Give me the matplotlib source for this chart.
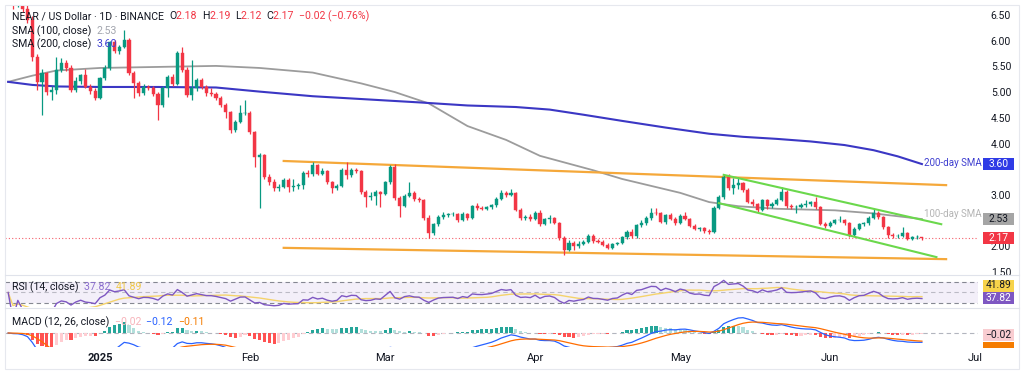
import numpy as np
import pandas as pd
import matplotlib.pyplot as plt
from matplotlib.patches import Rectangle

W, H = 1024, 374

plt.rcParams["font.family"] = ["Roboto", "DejaVu Sans"]

# ---- daily candles, NEAR/USD 1D ----
START_DATE = "2024-12-13"
FIRST_OPEN = 6.95

close_dec = [6.80, 6.70, 6.75, 6.62, 6.40, 5.68, 5.20, 5.37, 5.00, 5.05, 5.43, 5.57, 5.47, 5.04, 5.22, 5.33, 5.10, 5.02, 4.88]
high_dec = [7.00, 6.85, 6.82, 6.80, 6.70, 6.48, 5.75, 5.45, 5.40, 5.12, 5.68, 5.66, 5.62, 5.52, 5.30, 5.36, 5.45, 5.16, 5.08]
low_dec = [6.70, 6.62, 6.65, 6.55, 6.35, 5.60, 5.04, 4.55, 4.95, 4.85, 4.97, 5.40, 5.42, 5.00, 5.00, 5.15, 5.08, 4.96, 4.84]

close_jan = [5.27, 5.47, 5.97, 5.80, 5.88, 6.01, 5.37, 5.18, 4.98, 5.10, 5.08, 4.97, 4.75, 5.08, 5.29, 5.16,
             5.76, 5.43, 4.94, 5.08, 5.23, 5.10, 4.98, 4.97, 4.88, 4.75, 4.61, 4.26, 4.42, 4.59, 4.60]
high_jan = [5.30, 5.52, 6.00, 6.02, 5.92, 6.21, 6.05, 5.42, 5.22, 5.16, 5.13, 5.12, 5.00, 5.12, 5.33, 5.36,
            5.80, 5.88, 5.48, 5.62, 5.28, 5.28, 5.14, 5.08, 5.00, 4.92, 4.78, 4.64, 4.46, 4.75, 4.85]
low_jan = [4.86, 5.24, 5.43, 5.76, 5.75, 5.85, 5.33, 4.88, 4.92, 4.95, 5.04, 4.93, 4.46, 4.72, 4.90, 5.12,
           5.14, 5.40, 4.90, 4.85, 5.02, 5.06, 4.92, 4.92, 4.84, 4.72, 4.50, 4.20, 4.22, 4.40, 4.55]

close_feb = [4.22, 3.74, 3.78, 3.35, 3.25, 3.13, 3.16, 3.29, 3.16, 3.18, 3.19, 3.43, 3.40, 3.58,
             3.41, 3.46, 3.25, 3.13, 3.18, 3.48, 3.38, 3.48, 3.46, 3.06, 2.96, 2.98, 3.06, 3.02]
high_feb = [4.64, 4.25, 3.82, 3.80, 3.40, 3.30, 3.22, 3.33, 3.32, 3.30, 3.24, 3.46, 3.48, 3.64,
            3.60, 3.52, 3.48, 3.28, 3.22, 3.52, 3.64, 3.52, 3.52, 3.49, 3.10, 3.05, 3.10, 3.08]
low_feb = [4.18, 3.55, 2.75, 3.30, 3.20, 3.08, 3.08, 3.14, 3.05, 3.08, 3.12, 3.12, 3.34, 3.36,
           3.38, 3.38, 3.22, 3.04, 3.10, 3.15, 3.30, 3.35, 3.42, 3.02, 2.77, 2.90, 2.80, 2.77]

close_mar = [3.25, 3.54, 2.94, 2.78, 2.98, 3.04, 2.92, 2.90, 2.55, 2.26, 2.43, 2.57, 2.61, 2.62, 2.63, 2.51,
             2.63, 2.55, 2.78, 2.74, 2.73, 2.76, 2.80, 2.92, 3.04, 3.00, 3.04, 2.71, 2.55, 2.57, 2.53]
high_mar = [3.28, 3.58, 3.60, 2.98, 3.02, 3.25, 3.08, 2.96, 2.92, 2.60, 2.46, 2.60, 2.66, 2.65, 2.66, 2.65,
            2.66, 2.65, 2.81, 2.84, 2.78, 2.79, 2.82, 2.95, 3.10, 3.07, 3.12, 3.06, 2.74, 2.61, 2.63]
low_mar = [3.00, 3.22, 2.90, 2.57, 2.76, 2.95, 2.88, 2.86, 2.52, 2.16, 2.22, 2.40, 2.53, 2.57, 2.59, 2.48,
           2.49, 2.52, 2.53, 2.70, 2.70, 2.71, 2.73, 2.77, 2.90, 2.96, 2.97, 2.68, 2.52, 2.52, 2.49]

close_apr = [2.65, 2.43, 2.53, 2.55, 2.45, 2.16, 1.93, 2.07, 2.00, 2.05, 2.08, 2.20, 2.10, 2.09, 2.03,
             1.97, 2.04, 2.06, 2.18, 2.28, 2.20, 2.41, 2.45, 2.55, 2.65, 2.64, 2.48, 2.60, 2.54, 2.45]
high_apr = [2.68, 2.70, 2.56, 2.60, 2.57, 2.47, 2.20, 2.12, 2.10, 2.10, 2.12, 2.23, 2.24, 2.15, 2.12,
            2.06, 2.07, 2.08, 2.21, 2.31, 2.33, 2.44, 2.52, 2.58, 2.75, 2.75, 2.67, 2.63, 2.64, 2.57]
low_apr = [2.51, 2.40, 2.41, 2.46, 2.43, 2.12, 1.83, 1.90, 1.92, 1.97, 2.02, 2.06, 2.07, 2.06, 2.00,
           1.94, 1.95, 2.02, 2.04, 2.15, 2.17, 2.17, 2.38, 2.42, 2.52, 2.60, 2.45, 2.44, 2.51, 2.42]

close_may = [2.59, 2.54, 2.40, 2.34, 2.35, 2.29, 2.27, 2.75, 2.96, 3.35, 3.14, 3.19, 3.23, 3.10, 2.87, 2.82,
             2.70, 2.90, 2.78, 2.83, 2.90, 3.06, 2.78, 2.76, 2.77, 2.80, 2.83, 2.86, 2.76, 2.44, 2.39]
high_may = [2.62, 2.66, 2.56, 2.43, 2.38, 2.37, 2.33, 2.78, 3.00, 3.38, 3.41, 3.32, 3.35, 3.26, 3.13, 2.92,
            2.84, 2.93, 2.92, 2.87, 2.94, 3.15, 3.10, 2.82, 2.81, 2.84, 2.90, 2.89, 2.96, 2.78, 2.47]
low_may = [2.43, 2.51, 2.37, 2.31, 2.30, 2.26, 2.24, 2.25, 2.72, 2.92, 3.10, 3.02, 3.12, 3.06, 2.84, 2.79,
           2.67, 2.68, 2.72, 2.75, 2.80, 2.88, 2.75, 2.73, 2.65, 2.75, 2.76, 2.79, 2.73, 2.41, 2.36]

close_jun = [2.46, 2.51, 2.52, 2.45, 2.22, 2.34, 2.43, 2.45, 2.55, 2.65, 2.57, 2.37, 2.22, 2.20, 2.21, 2.25, 2.15, 2.18, 2.19, 2.17]
high_jun = [2.49, 2.54, 2.58, 2.54, 2.47, 2.37, 2.46, 2.48, 2.58, 2.73, 2.68, 2.59, 2.39, 2.25, 2.24, 2.38, 2.27, 2.20, 2.22, 2.19]
low_jun = [2.37, 2.43, 2.48, 2.42, 2.19, 2.20, 2.32, 2.40, 2.42, 2.53, 2.54, 2.34, 2.17, 2.17, 2.17, 2.19, 2.12, 2.13, 2.15, 2.12]

# ---- moving averages (sampled off the chart) ----
sma100_dates = ["2024-12-13", "2024-12-18", "2024-12-23", "2025-01-01", "2025-01-13", "2025-01-25", "2025-02-03",
                "2025-02-14", "2025-02-24", "2025-03-03", "2025-03-10", "2025-03-18", "2025-03-26", "2025-04-02",
                "2025-04-13", "2025-04-19", "2025-05-01", "2025-05-07", "2025-05-13", "2025-05-21", "2025-06-02",
                "2025-06-10", "2025-06-20"]
sma100_vals = [5.20, 5.32, 5.42, 5.47, 5.49, 5.51, 5.47, 5.38, 5.17, 5.00, 4.78, 4.34, 4.07, 3.76,
               3.48, 3.31, 3.04, 2.86, 2.78, 2.73, 2.70, 2.64, 2.53]

sma200_dates = ["2024-12-13", "2024-12-18", "2024-12-23", "2025-01-01", "2025-01-13", "2025-01-25", "2025-02-03",
                "2025-02-14", "2025-02-25", "2025-03-08", "2025-03-18", "2025-03-28", "2025-04-04", "2025-04-11",
                "2025-04-19", "2025-04-28", "2025-05-07", "2025-05-14", "2025-05-21", "2025-05-28", "2025-06-04",
                "2025-06-10", "2025-06-15", "2025-06-20"]
sma200_vals = [5.20, 5.14, 5.11, 5.10, 5.10, 5.09, 5.01, 4.92, 4.86, 4.80, 4.74, 4.71, 4.66, 4.56,
               4.44, 4.31, 4.19, 4.13, 4.09, 4.04, 3.97, 3.87, 3.75, 3.60]

# ---- drawn trend lines (start/end) ----
range_top = (["2025-02-08", "2025-06-25"], [3.66, 3.19])
range_bottom = (["2025-02-08", "2025-06-25"], [1.97, 1.75])
channel_top = (["2025-05-10", "2025-06-24"], [3.39, 2.43])
channel_bottom = (["2025-05-09", "2025-06-23"], [2.84, 1.79])

month_ticks = ["2025-01-01", "2025-02-01", "2025-03-01", "2025-04-01", "2025-05-01", "2025-06-01", "2025-07-01"]
month_labels = ["2025", "Feb", "Mar", "Apr", "May", "Jun", "Jul"]
# 2.50 and 3.50 sit under the SMA value tags, so they are left out
price_ticks = [1.5, 2.0, 3.0, 4.0, 4.5, 5.0, 5.5, 6.0, 6.5]

UP, DOWN = "#089981", "#f23645"
DARK = "#131722"
ORIGIN = pd.Timestamp("2025-01-01")


def day(d):
    return (pd.to_datetime(d) - ORIGIN) / pd.Timedelta(days=1)


def axes_px(fig, x0, x1, y0, y1):
    return fig.add_axes([x0 / W, 1 - y1 / H, (x1 - x0) / W, (y1 - y0) / H])


def text_run(fig, x, y, parts, size=7.6):
    """Writes coloured pieces one after another from pixel x, y."""
    r = fig.canvas.get_renderer()
    for s, col in parts:
        t = fig.text(x / W, 1 - y / H, s, color=col, fontsize=size, va="center", ha="left")
        x += t.get_window_extent(r).width


def tag(fig, y_center, label, bg, fg="white", h=12):
    fig.patches.append(Rectangle((983 / W, 1 - (y_center + h / 2) / H), 31 / W, h / H,
                                 transform=fig.transFigure, facecolor=bg, edgecolor="none", zorder=5))
    fig.text(998.5 / W, 1 - y_center / H, label, color=fg, fontsize=7.4, ha="center", va="center", zorder=6)


def build_frame():
    closes = close_dec + close_jan + close_feb + close_mar + close_apr + close_may + close_jun
    highs = high_dec + high_jan + high_feb + high_mar + high_apr + high_may + high_jun
    lows = low_dec + low_jan + low_feb + low_mar + low_apr + low_may + low_jun
    df = pd.DataFrame({"close": closes, "high": highs, "low": lows},
                      index=pd.date_range(START_DATE, periods=len(closes), freq="D"))
    df["open"] = df["close"].shift(1).fillna(FIRST_OPEN)
    df["x"] = day(df.index)
    return df


def main():
    df = build_frame()
    s = df["close"]

    # RSI (Wilder) and its 14 SMA
    delta = s.diff().fillna(0)
    gain = delta.clip(lower=0).ewm(alpha=1 / 14, adjust=True).mean()
    loss = (-delta.clip(upper=0)).ewm(alpha=1 / 14, adjust=True).mean()
    rsi = 100 - 100 / (1 + gain / loss.replace(0, np.nan))
    rsi = rsi.fillna(50)
    rsi_ma = rsi.rolling(14, min_periods=1).mean()

    # MACD 12/26/9
    macd = s.ewm(span=12, adjust=False).mean() - s.ewm(span=26, adjust=False).mean()
    signal = macd.ewm(span=9, adjust=False).mean()
    hist = macd - signal

    fig = plt.figure(figsize=(W / 100, H / 100), dpi=100)
    fig.patch.set_facecolor("white")
    xlim = (-19.65, 181.6)

    # ---------- price pane ----------
    ax = axes_px(fig, 5, 978, 5, 274)
    ax.set_xlim(*xlim)
    ax.set_ylim(1.461, 6.695)

    up = df["close"] >= df["open"]
    colors = np.where(up, UP, DOWN)
    ax.vlines(df["x"], df["low"], df["high"], colors=colors, lw=0.9, zorder=3)
    body = (df["close"] - df["open"]).abs().clip(lower=0.008)
    ax.bar(df["x"], body, bottom=np.minimum(df["open"], df["close"]), width=0.64,
           color=colors, edgecolor=colors, linewidth=0.3, zorder=4)

    ax.plot(day(sma100_dates), sma100_vals, color="#9c9c9c", lw=1.3, zorder=2)
    ax.plot(day(sma200_dates), sma200_vals, color="#3b37c4", lw=1.5, zorder=2)

    for xs, ys in (range_top, range_bottom):
        ax.plot(day(xs), ys, color="#f5a83a", lw=1.6, zorder=2)
    for xs, ys in (channel_top, channel_bottom):
        ax.plot(day(xs), ys, color="#6bd84c", lw=1.5, zorder=5)

    last = df["close"].iloc[-1]
    ax.axhline(last, color=DOWN, lw=0.8, ls=(0, (1, 2)), alpha=0.8, zorder=1)

    ax.text(df["x"].iloc[-1] + 0.5, sma200_vals[-1] + 0.02, "200-day SMA", color="#3f3fd0",
            fontsize=7.0, va="center", ha="left", zorder=6)
    ax.text(df["x"].iloc[-1] + 0.5, sma100_vals[-1] + 0.10, "100-day SMA", color="#b4b4b4",
            fontsize=7.0, va="center", ha="left", zorder=6)

    ax.set_yticks(price_ticks)
    ax.set_yticklabels([f"{p:.2f}" for p in price_ticks])
    ax.yaxis.tick_right()
    ax.tick_params(axis="y", length=0, pad=9.2, labelsize=7.5, labelcolor=DARK)
    ax.set_xticks([])
    for sp in ax.spines.values():
        sp.set_visible(False)

    # ---------- RSI pane ----------
    ar = axes_px(fig, 5, 978, 276, 307)
    ar.set_xlim(*xlim)
    ar.set_ylim(22.4, 81.4)
    ar.axhspan(30, 70, color="#7e57c2", alpha=0.09, lw=0)
    for lvl, a in ((70, 0.9), (50, 0.45), (30, 0.9)):
        ar.axhline(lvl, color="#787b86", lw=0.8, ls=(0, (4, 3)), alpha=a)
    ar.plot(df["x"], rsi_ma, color="#f5d36b", lw=1.0)
    ar.plot(df["x"], rsi, color="#7e57c2", lw=1.0)
    ar.set_xticks([])
    ar.set_yticks([])
    for sp in ar.spines.values():
        sp.set_visible(False)

    # ---------- MACD pane ----------
    am = axes_px(fig, 5, 978, 309, 347)
    am.set_xlim(*xlim)
    am.set_ylim(-0.187, 0.32)
    prev = hist.shift(1).fillna(0)
    hcol = np.where(hist >= 0, np.where(hist >= prev, "#26a69a", "#b2dfdb"),
                    np.where(hist < prev, "#ff5252", "#ffcdd2"))
    am.bar(df["x"], hist, width=0.64, color=hcol, zorder=2)
    am.axhline(0, color="#b2b5be", lw=0.8, ls=(0, (4, 3)), zorder=1)
    am.plot(df["x"], macd, color="#2962ff", lw=0.9, zorder=3)
    am.plot(df["x"], signal, color="#ff6d00", lw=0.9, zorder=3)
    am.set_yticks([])
    am.set_xticks(day(month_ticks))
    am.set_xticklabels(month_labels)
    am.tick_params(axis="x", length=0, pad=4.5, labelsize=8, labelcolor=DARK)
    am.get_xticklabels()[0].set_fontweight("bold")
    for sp in am.spines.values():
        sp.set_visible(False)

    # ---------- separators and frame ----------
    for yy in (275, 308):
        fig.add_artist(plt.Line2D([5 / W, 1019 / W], [1 - yy / H, 1 - yy / H], color="#e0e3eb", lw=0.8))
    fig.patches.append(Rectangle((5 / W, 1 - 369 / H), 1014 / W, 364 / H, transform=fig.transFigure,
                                 fill=False, edgecolor="#e6e8ee", lw=0.8))

    # ---------- legend texts ----------
    text_run(fig, 12, 16, [("NEAR / US Dollar · 1D · BINANCE  ", DARK), ("O", DARK), ("2.18  ", DOWN),
                           ("H", DARK), ("2.19  ", DOWN), ("L", DARK), ("2.12  ", DOWN),
                           ("C", DARK), ("2.17  ", DOWN), ("−0.02 (−0.76%)", DOWN)])
    text_run(fig, 12, 31, [("SMA (100, close)  ", DARK), ("2.53", "#a3a6af")])
    text_run(fig, 12, 44, [("SMA (200, close)  ", DARK), ("3.60", "#3f3fd0")])
    text_run(fig, 12, 287, [("RSI (14, close)  ", DARK), ("37.82  ", "#8c6fd0"), ("41.89", "#f0c94a")])
    text_run(fig, 12, 322, [("MACD (12, 26, close)  ", DARK), ("−0.02  ", "#f7b4bb"),
                            ("−0.12  ", "#2962ff"), ("−0.11", "#f57c00")])

    # ---------- right-hand value tags ----------
    to_px = lambda a, v: H - a.transData.transform((0, v))[1]
    tag(fig, to_px(ax, sma200_vals[-1]), "3.60", "#2f3be6")
    tag(fig, to_px(ax, sma100_vals[-1]), "2.53", "#a5a5a5", fg=DARK)
    tag(fig, to_px(ax, last), "2.17", DOWN)
    tag(fig, 285.5, "41.89", "#f7d34a", fg=DARK)
    tag(fig, 298, "37.82", "#7e57c2")
    tag(fig, 335, "−0.02", "#f9cdd1", fg=DARK)
    fig.patches.append(Rectangle((983 / W, 1 - 348 / H), 31 / W, 6 / H, transform=fig.transFigure,
                                 facecolor="#f57c00", edgecolor="none", zorder=5))

    fig.savefig("out.png", dpi=100, facecolor="white")
    plt.close(fig)


if __name__ == "__main__":
    main()
